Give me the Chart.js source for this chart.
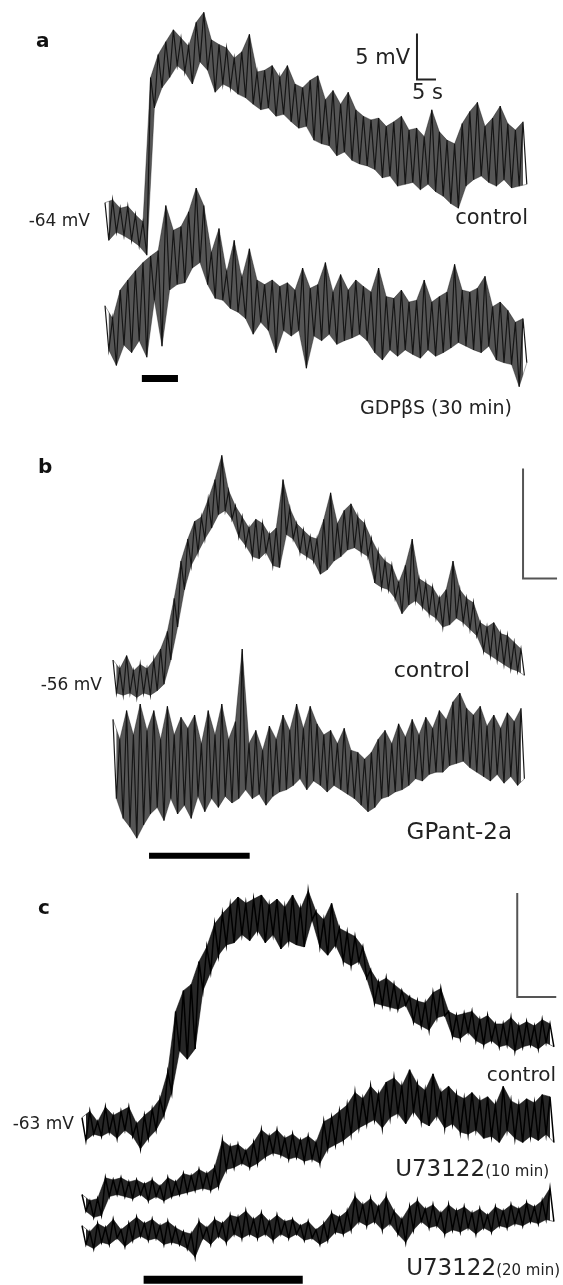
<!DOCTYPE html>
<html>
<head>
<meta charset="utf-8">
<script src="https://cdn.jsdelivr.net/npm/chart.js@4.4.1/dist/chart.umd.min.js"></script>
<style>
body { margin: 0; background: #fff; }
#page { position: relative; width: 563px; height: 1285px; overflow: hidden; font-family: "DejaVu Sans", sans-serif; color: #222; }
.panel { position: absolute; left: 0; width: 563px; }
.lbl { position: absolute; line-height: 1; white-space: nowrap; transform: translateY(-50%); }
.bold { font-weight: bold; color: #111; }
.small { font-size: 15px; }
</style>
</head>
<body>
<div id="page">
    <div class="panel" style="top:0;height:440px"><canvas id="chartA" width="563" height="440"></canvas></div>
    <div class="panel" style="top:440px;height:420px"><canvas id="chartB" width="563" height="420"></canvas></div>
    <div class="panel" style="top:860px;height:425px"><canvas id="chartC" width="563" height="425"></canvas></div>

    <!-- panel a -->
    <div class="lbl bold" style="left:36px;top:40px;font-size:20px">a</div>
    <div class="lbl" style="right:153px;top:57px;font-size:21px">5 mV</div>
    <div class="lbl" style="left:412px;top:92px;font-size:21px">5 s</div>
    <div class="lbl" style="right:473px;top:220px;font-size:17px">-64 mV</div>
    <div class="lbl" style="right:35px;top:217px;font-size:21px">control</div>
    <div class="lbl" style="right:51px;top:407px;font-size:19px">GDPβS (30 min)</div>

    <!-- panel b -->
    <div class="lbl bold" style="left:38px;top:466px;font-size:20px">b</div>
    <div class="lbl" style="right:461px;top:684px;font-size:17px">-56 mV</div>
    <div class="lbl" style="right:93px;top:670px;font-size:22px">control</div>
    <div class="lbl" style="right:51px;top:831px;font-size:23px">GPant-2a</div>

    <!-- panel c -->
    <div class="lbl bold" style="left:38px;top:907px;font-size:20px">c</div>
    <div class="lbl" style="right:489px;top:1123px;font-size:17px">-63 mV</div>
    <div class="lbl" style="right:7px;top:1074px;font-size:20px">control</div>
    <div class="lbl" style="right:14px;top:1168px;font-size:23px">U73122<span class="small">(10 min)</span></div>
    <div class="lbl" style="right:3px;top:1267px;font-size:23px">U73122<span class="small">(20 min)</span></div>
</div>

<script>
// ================= DATOS (mV relativo a la línea base de cada trazo) =================
// panel a: una muestra cada 2 s; cada muestra = borde superior / inferior del ruido
const stepA = 2;
const controlA_hi = [2.1,2.4,1.5,1.7,0.8,0.0,15.7,18.2,19.6,20.9,20.0,19.1,21.7,22.8,19.8,19.3,18.9,17.8,18.5,20.4,16.3,16.5,17.0,15.7,17.0,15.0,14.6,15.4,15.9,13.3,14.3,12.8,14.1,12.2,11.5,11.1,11.3,10.4,10.9,11.5,10.0,10.2,9.3,12.2,9.8,8.9,8.5,10.7,12.0,13.0,10.4,11.3,12.6,10.7,10.0,10.9];
const controlA_lo = [-2.0,-1.1,-1.5,-2.0,-2.6,-3.6,12.4,14.6,15.7,17.0,16.3,15.0,17.4,16.5,14.1,15.0,14.6,13.9,13.5,12.8,12.2,12.4,11.5,11.7,10.9,10.2,10.4,8.9,8.5,8.3,7.2,7.6,6.7,6.3,6.1,5.7,4.8,5.0,3.9,4.1,4.3,3.5,4.1,3.3,2.8,2.0,1.5,3.9,4.6,5.0,4.3,3.9,4.6,3.7,3.9,4.1];
const gdpA_hi = [3.0,1.6,4.7,5.8,6.8,7.7,8.4,9.0,13.9,11.2,11.6,13.2,15.8,13.9,8.8,11.4,6.6,10.1,6.0,9.2,5.8,5.3,5.8,5.1,5.5,4.7,7.1,4.9,5.3,7.7,4.5,6.4,4.7,5.8,5.1,4.5,7.1,4.0,3.8,4.7,3.4,3.6,5.8,3.4,4.0,4.5,7.5,4.7,4.5,4.9,6.2,2.9,3.4,2.5,1.2,1.6];
const gdpA_lo = [-1.8,-3.5,-1.3,-2.1,-0.8,-2.6,3.6,-1.4,4.7,5.3,5.5,7.1,7.7,5.3,3.8,3.6,2.7,2.3,1.6,-0.1,1.2,0.3,-2.1,0.3,-0.3,0.3,-3.8,-0.3,-0.8,-0.1,-1.2,-0.8,-0.5,-0.1,-0.8,-2.1,-2.9,-1.8,-2.5,-1.8,-2.3,-2.7,-1.8,-2.5,-2.1,-1.6,-1.0,-1.4,-1.8,-2.1,-1.4,-2.9,-3.2,-3.4,-5.8,-3.2];
const offsetsA = [0, -12.1];
const stimA = [9.7, 19.2];

// panel b: una muestra cada 1 s
const stepB = 1;
const controlB_hi = [1.0,0.6,1.2,0.5,0.8,0.6,1.0,1.5,2.3,3.8,5.5,6.5,7.3,7.5,8.3,9.2,10.3,8.7,8.0,7.5,7.0,7.4,7.2,6.7,7.0,9.2,7.9,7.2,6.9,6.6,6.5,7.4,8.6,7.2,7.8,8.1,7.5,7.2,6.5,5.9,5.5,5.3,4.5,5.3,6.5,4.7,4.5,4.3,3.8,4.2,5.5,4.2,3.8,3.6,2.7,2.5,2.7,2.2,2.1,1.8,1.5];
const controlB_lo = [-0.5,-0.6,-0.5,-0.7,-0.5,-0.6,-0.4,-0.1,1.0,2.5,4.2,5.3,5.9,6.5,7.0,7.6,7.8,7.4,6.6,6.2,5.7,5.6,5.9,5.3,5.2,6.7,6.5,5.9,5.7,5.5,4.9,5.1,5.5,5.7,6.0,6.1,5.9,5.7,4.5,4.3,4.2,3.8,3.1,3.5,3.7,3.4,3.1,2.9,2.5,2.6,2.9,2.7,2.4,2.1,1.4,1.2,1.0,0.8,0.6,0.5,0.3];
const gpantB_hi = [2.5,1.6,2.9,1.8,3.2,2.0,2.9,1.6,3.1,1.8,2.6,2.1,2.7,1.4,2.9,1.8,3.2,1.6,2.4,5.7,1.4,2.0,1.1,2.2,1.6,2.7,2.0,3.2,2.1,3.1,2.3,1.8,2.0,1.4,2.1,1.1,1.0,0.7,1.0,1.6,2.0,1.4,2.3,1.7,2.5,1.8,2.6,2.1,2.9,2.5,3.3,3.7,3.0,2.7,3.1,2.2,2.7,2.1,2.8,2.4,3.0];
const gpantB_lo = [-1.1,-2.0,-2.4,-2.9,-2.3,-1.8,-1.5,-2.1,-1.1,-1.8,-1.4,-2.0,-1.0,-1.7,-1.1,-1.5,-1.0,-1.3,-1.1,-0.7,-1.1,-0.9,-1.4,-1.0,-0.8,-0.7,-0.5,-0.2,-0.7,-0.3,-0.5,-0.8,-0.5,-0.7,-0.9,-1.1,-1.4,-1.7,-1.5,-1.1,-1.0,-0.8,-0.7,-0.5,-0.2,-0.3,0.0,0.1,0.1,0.4,0.5,0.6,0.3,0.1,-0.1,-0.3,0.0,-0.4,-0.1,-0.5,-0.2];
const offsetsB = [0, -4.2];
const stimB = [5.3, 20.1];

// panel c: una muestra cada 1 s
const stepC = 1;
const controlC_hi = [0.6,0.9,0.4,1.1,0.7,0.9,1.1,0.3,0.7,1.0,1.5,2.8,5.7,6.7,7.0,8.1,8.8,9.9,10.4,10.8,11.2,10.9,11.1,11.3,10.8,11.1,10.7,11.3,10.6,11.5,10.5,10.1,10.9,9.7,9.5,9.3,8.8,7.7,7.1,7.3,7.0,6.7,6.4,6.2,6.1,6.6,6.8,5.7,5.5,5.6,5.7,5.3,5.5,5.1,5.1,5.4,5.0,5.2,5.0,5.3,5.1];
const controlC_lo = [-0.5,-0.2,-0.3,-0.1,-0.4,0.0,-0.3,-0.9,-0.4,0.0,0.7,1.8,3.8,3.4,3.9,6.7,7.6,8.4,8.9,9.0,9.4,9.1,9.6,9.0,9.4,8.7,9.1,8.9,8.8,10.1,8.8,8.4,8.9,8.1,7.9,8.1,7.3,6.1,6.0,5.9,5.8,6.0,5.2,5.0,4.8,5.4,5.5,4.5,4.4,4.7,4.3,4.1,4.3,4.0,4.1,3.8,4.0,4.1,3.9,4.2,4.0];
const u10C_hi = [-0.2,-0.5,-0.4,0.6,0.5,0.6,0.4,0.5,0.3,0.5,0.2,0.6,0.4,0.8,0.7,1.0,0.8,1.1,2.4,2.1,2.2,1.9,2.3,2.9,2.6,2.9,2.5,2.7,2.4,2.6,2.3,3.3,3.5,3.8,4.1,4.7,4.4,5.0,4.6,5.2,5.4,5.0,5.8,5.1,4.8,5.6,4.7,5.0,4.6,4.4,4.7,4.3,4.5,4.1,5.0,4.3,4.1,4.4,4.2,4.6,4.5];
const u10C_lo = [-1.0,-1.3,-1.2,-0.3,-0.2,-0.3,-0.4,-0.2,-0.5,-0.3,-0.5,-0.3,-0.2,-0.1,0.0,0.1,0.0,0.2,1.0,1.1,1.3,1.1,1.3,1.6,1.8,1.7,1.5,1.6,1.4,1.5,1.3,2.0,2.2,2.4,2.7,3.0,3.2,3.4,3.0,3.5,3.7,3.2,3.8,3.3,3.1,3.6,3.0,3.2,2.8,2.7,2.9,2.5,2.6,2.3,2.9,2.5,2.3,2.6,2.4,2.7,2.3];
const u20C_hi = [0.4,0.1,0.5,0.3,0.7,0.2,0.5,0.8,0.5,0.7,0.4,0.6,0.3,0.1,0.0,0.6,0.3,0.7,0.5,0.9,0.8,1.1,0.7,1.0,0.6,0.9,0.6,0.7,0.4,0.6,0.2,0.5,1.0,0.8,1.1,1.8,1.4,1.7,1.3,1.8,1.1,0.7,1.3,1.6,1.2,1.4,1.0,1.4,1.1,1.3,1.0,1.2,0.9,1.3,1.1,1.4,1.2,1.5,1.3,1.6,2.2];
const u20C_lo = [-0.5,-0.7,-0.4,-0.5,-0.2,-0.6,-0.3,-0.1,-0.3,-0.2,-0.5,-0.4,-0.5,-0.7,-1.1,-0.2,-0.5,-0.1,-0.4,0.0,-0.2,0.0,-0.2,0.0,-0.3,0.0,-0.2,0.0,-0.3,-0.2,-0.5,-0.3,0.1,0.0,0.2,0.6,0.4,0.6,0.2,0.5,0.0,-0.4,0.2,0.6,0.3,0.4,0.0,0.2,0.1,0.3,0.0,0.3,0.1,0.4,0.3,0.5,0.4,0.6,0.5,0.7,0.6];
const offsetsC = [0, -2.9, -5.0];
const stimC = [7.9, 28.3];

// barras de escala: 5 mV / 5 s
const barMV = 5;
const barS = 5;


// ================= GEOMETRÍA DE LOS PANELES =================
const W = 563;
const panelA = { h: 440, t0: 105, pxPerS: 3.8, v0: 222, pxPerMV: 9.2, bar: { t: 82.1, top: 20.5, color: '#222' }, stimY: -17.0, stimW: 7 };
const panelB = { h: 420, t0: 113, pxPerS: 6.8, v0: 242, pxPerMV: 22, bar: { t: 60.3, top: 9.7, color: '#555' }, stimY: -7.9, stimW: 6 };
const panelC = { h: 425, t0: 82, pxPerS: 7.8, v0: 270, pxPerMV: 20.8, bar: { t: 55.8, top: 11.4, color: '#555' }, stimY: -7.2, stimW: 8 };


// ================= CONSTRUIR TRAZOS =================
// cada trazo = banda rellena (borde superior -> inferior) + zigzag de ruido encima
function traceSets(hi, lo, step, offset, style) {

    let upper = [];
    let lower = [];
    let zigzag = [];

    for(let i = 0; i < hi.length; i++) {
        const p = { x: i * step, y: hi[i] + offset };
        const q = { x: i * step + step / 2, y: lo[i] + offset };
        upper.push(p);
        lower.push(q);
        zigzag.push(p, q);
    }

    return [
        { data: upper, borderColor: style.edge, borderWidth: 1, pointRadius: 0, fill: '+1', backgroundColor: style.band },
        { data: lower, borderColor: style.edge, borderWidth: 1, pointRadius: 0, fill: false },
        { data: zigzag, borderColor: style.line, borderWidth: style.width, pointRadius: 0, fill: false }
    ];
}

function scaleBarSet(bar) {
    return {
        data: [
            { x: bar.t, y: bar.top },
            { x: bar.t, y: bar.top - barMV },
            { x: bar.t + barS, y: bar.top - barMV }
        ],
        borderColor: bar.color, borderWidth: 2, pointRadius: 0, borderJoinStyle: 'miter', fill: false
    };
}

function stimSet(stim, geo) {
    return {
        data: [{ x: stim[0], y: geo.stimY }, { x: stim[1], y: geo.stimY }],
        borderColor: '#000', borderWidth: geo.stimW, pointRadius: 0, borderCapStyle: 'butt', fill: false
    };
}


// ================= GRÁFICAS =================
function makePanel(id, geo, datasets) {

    return new Chart(document.getElementById(id), {
        type: 'line',
        data: { datasets: datasets },
        options: {
            responsive: false,
            animation: false,
            devicePixelRatio: 1,
            events: [],
            layout: { padding: 0 },
            elements: { line: { tension: 0 } },
            plugins: { legend: { display: false }, tooltip: { enabled: false } },
            scales: {
                x: { type: 'linear', display: false, min: -geo.t0 / geo.pxPerS, max: (W - geo.t0) / geo.pxPerS },
                y: { type: 'linear', display: false, min: -(geo.h - geo.v0) / geo.pxPerMV, max: geo.v0 / geo.pxPerMV }
            }
        }
    });
}

const noisyStyle = { band: 'rgba(20,20,20,0.72)', edge: 'rgba(0,0,0,0.35)', line: 'rgba(0,0,0,0.9)', width: 1.2 };
const cleanStyle = { band: 'rgba(0,0,0,0.85)', edge: 'rgba(0,0,0,0.5)', line: '#000', width: 1.5 };

makePanel('chartA', panelA, [
    ...traceSets(controlA_hi, controlA_lo, stepA, offsetsA[0], noisyStyle),
    ...traceSets(gdpA_hi, gdpA_lo, stepA, offsetsA[1], noisyStyle),
    scaleBarSet(panelA.bar),
    stimSet(stimA, panelA)
]);

makePanel('chartB', panelB, [
    ...traceSets(controlB_hi, controlB_lo, stepB, offsetsB[0], noisyStyle),
    ...traceSets(gpantB_hi, gpantB_lo, stepB, offsetsB[1], noisyStyle),
    scaleBarSet(panelB.bar),
    stimSet(stimB, panelB)
]);

makePanel('chartC', panelC, [
    ...traceSets(controlC_hi, controlC_lo, stepC, offsetsC[0], cleanStyle),
    ...traceSets(u10C_hi, u10C_lo, stepC, offsetsC[1], cleanStyle),
    ...traceSets(u20C_hi, u20C_lo, stepC, offsetsC[2], cleanStyle),
    scaleBarSet(panelC.bar),
    stimSet(stimC, panelC)
]);
</script>
</body>
</html>
